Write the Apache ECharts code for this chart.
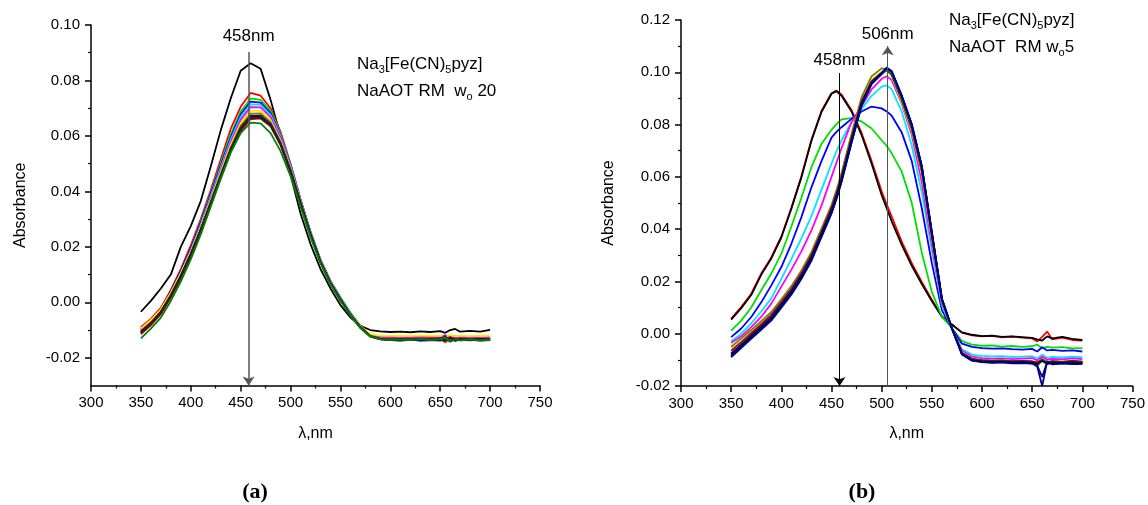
<!DOCTYPE html>
<html><head><meta charset="utf-8">
<script src="https://cdn.jsdelivr.net/npm/echarts@6/dist/echarts.min.js"></script>
<style>html,body{margin:0;padding:0;background:#fff}#c{width:1148px;height:505px}</style>
</head><body><div id="c"></div>
<script>
// ---------- Panel (a): NaAOT RM w0 20 ----------
const WL_A = [350,360,370,380,390,400,410,420,430,440,
              450,460,470,480,490,500,510,520,530,540,
              550,560,570,580,590,600,610,620,630,640,
              650,655,660,665,670,680,690,700];
const A_black = [-0.0034,0.0005,0.0050,0.0100,0.0200,0.0275,0.0365,0.0490,0.0620,0.0735,
  0.0835,0.0862,0.0842,0.0730,0.0600,0.0460,0.0320,0.0210,0.0120,0.0050,
  -0.0010,-0.0055,-0.0085,-0.0100,-0.0105,-0.0107,-0.0106,-0.0108,-0.0105,-0.0107,
  -0.0104,-0.0110,-0.0100,-0.0096,-0.0106,-0.0103,-0.0106,-0.0099];
const A_red = [-0.0090,-0.0060,-0.0020,0.0045,0.0120,0.0205,0.0300,0.0405,0.0515,0.0625,
  0.0705,0.0755,0.0745,0.0700,0.0615,0.0500,0.0370,0.0250,0.0150,0.0075,
  0.0015,-0.0040,-0.0085,-0.0118,-0.0127,-0.0128,-0.0130,-0.0127,-0.0131,-0.0128,
  -0.0126,-0.0135,-0.0124,-0.0140,-0.0129,-0.0131,-0.0128,-0.0130];
const A_green = [-0.0100,-0.0068,-0.0028,0.0035,0.0110,0.0195,0.0290,0.0395,0.0500,0.0605,
  0.0688,0.0735,0.0730,0.0690,0.0608,0.0498,0.0372,0.0255,0.0155,0.0078,
  0.0018,-0.0038,-0.0085,-0.0120,-0.0132,-0.0134,-0.0133,-0.0136,-0.0132,-0.0135,
  -0.0133,-0.0128,-0.0140,-0.0131,-0.0136,-0.0133,-0.0137,-0.0135];
const A_blue = [-0.0098,-0.0066,-0.0026,0.0038,0.0112,0.0195,0.0288,0.0390,0.0493,0.0595,
  0.0678,0.0724,0.0720,0.0682,0.0602,0.0495,0.0370,0.0253,0.0152,0.0076,
  0.0016,-0.0040,-0.0087,-0.0122,-0.0133,-0.0135,-0.0137,-0.0134,-0.0138,-0.0136,
  -0.0134,-0.0142,-0.0132,-0.0138,-0.0135,-0.0137,-0.0134,-0.0136];
const A_cyan = [-0.0105,-0.0072,-0.0032,0.0030,0.0104,0.0187,0.0280,0.0382,0.0485,0.0587,
  0.0668,0.0714,0.0712,0.0676,0.0598,0.0492,0.0368,0.0251,0.0151,0.0075,
  0.0015,-0.0041,-0.0088,-0.0122,-0.0131,-0.0133,-0.0132,-0.0134,-0.0130,-0.0133,
  -0.0131,-0.0125,-0.0137,-0.0130,-0.0134,-0.0131,-0.0133,-0.0132];
const A_magenta = [-0.0102,-0.0070,-0.0030,0.0032,0.0104,0.0185,0.0276,0.0376,0.0478,0.0578,
  0.0658,0.0704,0.0703,0.0668,0.0592,0.0488,0.0366,0.0250,0.0150,0.0074,
  0.0014,-0.0042,-0.0088,-0.0120,-0.0126,-0.0125,-0.0127,-0.0124,-0.0126,-0.0123,
  -0.0125,-0.0118,-0.0130,-0.0122,-0.0126,-0.0124,-0.0127,-0.0125];
const A_yellow = [-0.0095,-0.0064,-0.0025,0.0035,0.0105,0.0183,0.0272,0.0370,0.0470,0.0568,
  0.0646,0.0690,0.0690,0.0657,0.0583,0.0482,0.0362,0.0247,0.0148,0.0072,
  0.0012,-0.0043,-0.0087,-0.0115,-0.0120,-0.0121,-0.0120,-0.0122,-0.0119,-0.0121,
  -0.0120,-0.0126,-0.0117,-0.0123,-0.0120,-0.0122,-0.0120,-0.0121];
const A_olive = [-0.0110,-0.0077,-0.0037,0.0024,0.0095,0.0175,0.0265,0.0363,0.0462,0.0558,
  0.0636,0.0680,0.0681,0.0650,0.0578,0.0478,0.0360,0.0246,0.0147,0.0071,
  0.0011,-0.0044,-0.0089,-0.0121,-0.0130,-0.0132,-0.0131,-0.0133,-0.0130,-0.0132,
  -0.0131,-0.0145,-0.0128,-0.0135,-0.0131,-0.0133,-0.0131,-0.0133];
const A_navy = [-0.0108,-0.0075,-0.0035,0.0025,0.0095,0.0174,0.0262,0.0358,0.0456,0.0551,
  0.0628,0.0672,0.0673,0.0643,0.0573,0.0475,0.0358,0.0245,0.0146,0.0070,
  0.0010,-0.0045,-0.0090,-0.0123,-0.0134,-0.0136,-0.0138,-0.0135,-0.0137,-0.0136,
  -0.0138,-0.0130,-0.0141,-0.0134,-0.0137,-0.0135,-0.0138,-0.0136];
const A_purple = [-0.0112,-0.0079,-0.0039,0.0021,0.0091,0.0170,0.0258,0.0354,0.0452,0.0547,
  0.0624,0.0667,0.0669,0.0640,0.0571,0.0474,0.0357,0.0244,0.0145,0.0069,
  0.0009,-0.0046,-0.0091,-0.0123,-0.0131,-0.0133,-0.0132,-0.0134,-0.0131,-0.0133,
  -0.0130,-0.0122,-0.0138,-0.0129,-0.0133,-0.0131,-0.0134,-0.0132];
const A_wine = [-0.0115,-0.0082,-0.0042,0.0018,0.0087,0.0166,0.0254,0.0350,0.0447,0.0542,
  0.0618,0.0661,0.0663,0.0635,0.0567,0.0471,0.0355,0.0242,0.0144,0.0068,
  0.0008,-0.0047,-0.0092,-0.0124,-0.0133,-0.0135,-0.0134,-0.0136,-0.0133,-0.0135,
  -0.0132,-0.0140,-0.0127,-0.0136,-0.0133,-0.0135,-0.0132,-0.0134];
const A_black2 = [-0.0106,-0.0074,-0.0034,0.0026,0.0096,0.0175,0.0263,0.0359,0.0457,0.0552,
  0.0629,0.0670,0.0668,0.0638,0.0569,0.0472,0.0356,0.0244,0.0145,0.0069,
  0.0009,-0.0046,-0.0090,-0.0122,-0.0132,-0.0134,-0.0133,-0.0135,-0.0132,-0.0134,
  -0.0131,-0.0137,-0.0128,-0.0134,-0.0131,-0.0134,-0.0132,-0.0134];
const A_dkgreen = [-0.0130,-0.0095,-0.0055,0.0005,0.0075,0.0155,0.0245,0.0345,0.0445,0.0540,
  0.0610,0.0648,0.0645,0.0610,0.0545,0.0455,0.0345,0.0235,0.0140,0.0065,
  0.0005,-0.0048,-0.0093,-0.0124,-0.0133,-0.0135,-0.0134,-0.0136,-0.0133,-0.0136,
  -0.0134,-0.0128,-0.0142,-0.0133,-0.0137,-0.0134,-0.0137,-0.0135];

// ---------- Panel (b): NaAOT RM w0 5 ----------
const WL_B = [350,360,370,380,390,400,410,420,430,440,
              450,455,460,470,480,490,500,505,510,520,
              530,540,550,560,570,580,590,600,610,620,
              630,640,650,655,660,665,670,680,690,700];
const B_red = [0.0058,0.0102,0.0153,0.0230,0.0292,0.0372,0.0482,0.0602,0.0742,0.0852,
  0.0920,0.0930,0.0915,0.0855,0.0768,0.0660,0.0545,0.0495,0.0448,0.0352,
  0.0270,0.0198,0.0130,0.0068,0.0035,0.0004,-0.0006,-0.0010,-0.0008,-0.0014,
  -0.0011,-0.0015,-0.0018,-0.0030,-0.0012,0.0008,-0.0022,-0.0015,-0.0024,-0.0026];
const B_black = [0.0054,0.0098,0.0148,0.0226,0.0288,0.0368,0.0478,0.0598,0.0738,0.0848,
  0.0918,0.0928,0.0910,0.0850,0.0760,0.0650,0.0530,0.0480,0.0430,0.0340,
  0.0260,0.0190,0.0125,0.0065,0.0035,0.0005,-0.0004,-0.0009,-0.0007,-0.0012,
  -0.0010,-0.0013,-0.0016,-0.0022,-0.0026,-0.0010,-0.0018,-0.0012,-0.0020,-0.0024];
const B_green = [0.0012,0.0050,0.0100,0.0166,0.0230,0.0306,0.0410,0.0520,0.0637,0.0726,
  0.0780,0.0802,0.0820,0.0825,0.0812,0.0785,0.0740,0.0718,0.0690,0.0620,
  0.0500,0.0310,0.0160,0.0065,0.0022,-0.0028,-0.0042,-0.0046,-0.0045,-0.0049,
  -0.0047,-0.0050,-0.0048,-0.0042,-0.0055,-0.0050,-0.0053,-0.0051,-0.0056,-0.0055];
const B_blue = [-0.0013,0.0020,0.0064,0.0120,0.0185,0.0255,0.0344,0.0446,0.0560,0.0660,
  0.0750,0.0772,0.0790,0.0822,0.0850,0.0869,0.0862,0.0850,0.0834,0.0770,
  0.0660,0.0480,0.0270,0.0090,0.0020,-0.0038,-0.0050,-0.0055,-0.0057,-0.0056,
  -0.0059,-0.0061,-0.0058,-0.0068,-0.0052,-0.0064,-0.0062,-0.0066,-0.0064,-0.0068];
const B_cyan = [-0.0030,0.0000,0.0040,0.0085,0.0135,0.0210,0.0285,0.0365,0.0450,0.0550,
  0.0650,0.0698,0.0740,0.0810,0.0860,0.0910,0.0945,0.0950,0.0935,0.0850,
  0.0720,0.0540,0.0320,0.0110,0.0018,-0.0060,-0.0080,-0.0085,-0.0087,-0.0086,
  -0.0089,-0.0088,-0.0086,-0.0095,-0.0080,-0.0092,-0.0089,-0.0091,-0.0088,-0.0090];
const B_magenta = [-0.0035,-0.0010,0.0025,0.0065,0.0115,0.0180,0.0245,0.0315,0.0395,0.0490,
  0.0600,0.0655,0.0710,0.0810,0.0870,0.0935,0.0975,0.0985,0.0970,0.0880,
  0.0760,0.0580,0.0340,0.0120,0.0020,-0.0065,-0.0088,-0.0093,-0.0095,-0.0094,
  -0.0097,-0.0095,-0.0093,-0.0102,-0.0088,-0.0099,-0.0096,-0.0098,-0.0094,-0.0097];
const B_yellow = [-0.0055,-0.0022,0.0010,0.0045,0.0080,0.0128,0.0178,0.0238,0.0308,0.0398,
  0.0488,0.0545,0.0608,0.0758,0.0895,0.0972,0.1002,0.1005,0.0985,0.0885,
  0.0775,0.0612,0.0365,0.0125,0.0018,-0.0072,-0.0095,-0.0100,-0.0102,-0.0101,
  -0.0104,-0.0103,-0.0105,-0.0120,-0.0096,-0.0108,-0.0104,-0.0106,-0.0103,-0.0106];
const B_olive = [-0.0050,-0.0018,0.0014,0.0048,0.0083,0.0132,0.0182,0.0242,0.0312,0.0402,
  0.0492,0.0550,0.0615,0.0765,0.0905,0.0985,0.1015,0.1012,0.0990,0.0890,
  0.0780,0.0618,0.0370,0.0127,0.0019,-0.0074,-0.0097,-0.0102,-0.0104,-0.0103,
  -0.0106,-0.0105,-0.0107,-0.0125,-0.0098,-0.0110,-0.0106,-0.0108,-0.0105,-0.0108];
const B_purple = [-0.0065,-0.0032,0.0002,0.0037,0.0072,0.0121,0.0171,0.0231,0.0301,0.0391,
  0.0481,0.0537,0.0600,0.0750,0.0888,0.0966,0.0998,0.1008,0.0992,0.0896,
  0.0786,0.0625,0.0376,0.0128,0.0020,-0.0074,-0.0096,-0.0101,-0.0103,-0.0102,
  -0.0105,-0.0104,-0.0106,-0.0112,-0.0098,-0.0110,-0.0105,-0.0108,-0.0104,-0.0107];
const B_wine = [-0.0075,-0.0041,-0.0006,0.0029,0.0064,0.0114,0.0164,0.0224,0.0294,0.0384,
  0.0474,0.0530,0.0594,0.0744,0.0884,0.0962,0.0996,0.1010,0.0996,0.0902,
  0.0792,0.0633,0.0382,0.0131,0.0021,-0.0075,-0.0098,-0.0103,-0.0105,-0.0104,
  -0.0107,-0.0106,-0.0108,-0.0110,-0.0102,-0.0114,-0.0109,-0.0111,-0.0106,-0.0109];
const B_dkgreen = [-0.0080,-0.0046,-0.0011,0.0024,0.0058,0.0107,0.0157,0.0217,0.0287,0.0377,
  0.0467,0.0522,0.0587,0.0737,0.0877,0.0958,0.0993,0.1008,0.0994,0.0900,
  0.0790,0.0630,0.0380,0.0130,0.0020,-0.0076,-0.0099,-0.0104,-0.0106,-0.0105,
  -0.0108,-0.0107,-0.0109,-0.0118,-0.0101,-0.0113,-0.0109,-0.0111,-0.0108,-0.0111];
const B_dkcyan = [-0.0090,-0.0055,-0.0020,0.0015,0.0050,0.0099,0.0149,0.0209,0.0279,0.0369,
  0.0459,0.0515,0.0580,0.0730,0.0872,0.0955,0.0992,0.1010,0.0998,0.0905,
  0.0795,0.0636,0.0385,0.0133,0.0021,-0.0078,-0.0101,-0.0106,-0.0108,-0.0107,
  -0.0110,-0.0109,-0.0111,-0.0120,-0.0104,-0.0116,-0.0112,-0.0114,-0.0110,-0.0113];
const B_black2 = [-0.0078,-0.0044,-0.0009,0.0026,0.0061,0.0111,0.0161,0.0221,0.0291,0.0381,
  0.0471,0.0527,0.0591,0.0741,0.0881,0.0961,0.0997,0.1015,0.1002,0.0908,
  0.0798,0.0638,0.0386,0.0133,0.0021,-0.0077,-0.0100,-0.0105,-0.0107,-0.0106,
  -0.0109,-0.0108,-0.0110,-0.0116,-0.0103,-0.0115,-0.0110,-0.0112,-0.0109,-0.0112];
const B_royal = [-0.0088,-0.0053,-0.0018,0.0017,0.0052,0.0101,0.0151,0.0211,0.0281,0.0371,
  0.0461,0.0517,0.0582,0.0732,0.0874,0.0957,0.0996,0.1015,0.1003,0.0910,
  0.0800,0.0640,0.0388,0.0134,0.0022,-0.0079,-0.0103,-0.0109,-0.0111,-0.0110,
  -0.0113,-0.0112,-0.0114,-0.0122,-0.0165,-0.0108,-0.0117,-0.0113,-0.0116,-0.0115];
const B_navy = [-0.0085,-0.0050,-0.0015,0.0020,0.0055,0.0104,0.0154,0.0214,0.0284,0.0374,
  0.0464,0.0520,0.0584,0.0734,0.0875,0.0958,0.0998,0.1018,0.1005,0.0912,
  0.0802,0.0642,0.0390,0.0135,0.0022,-0.0078,-0.0102,-0.0108,-0.0110,-0.0109,
  -0.0112,-0.0111,-0.0113,-0.0125,-0.0200,-0.0105,-0.0116,-0.0112,-0.0115,-0.0114];

// ticks / labels
const X_TICKS_MIN = 300, X_TICKS_MAX = 750, X_STEP = 50;
const A_Y_LABELS = [-0.02, 0.00, 0.02, 0.04, 0.06, 0.08, 0.10];
const A_Y_MINOR = [-0.01, 0.01, 0.03, 0.05, 0.07, 0.09];
const A_Y_MIN = -0.03, A_Y_MAX = 0.10;
const B_Y_MIN = -0.02, B_Y_MAX = 0.12, B_Y_STEP = 0.02;
const PEAK_A = 458, PEAK_B1 = 458, PEAK_B2 = 506;

const FONT = "'Liberation Sans', Arial, sans-serif";
const chart = echarts.init(document.getElementById('c'), null, {renderer: 'canvas'});

function mk(vals, wl, color, xi, yi, extra) {
  return Object.assign({
    type: 'line', xAxisIndex: xi, yAxisIndex: yi,
    data: wl.map((x, i) => [x, vals[i]]),
    showSymbol: false, symbol: 'none', silent: true,
    lineStyle: {color: color, width: 1.8}, itemStyle: {color: color},
    z: 2
  }, extra || {});
}

const axisCommon = {
  axisLine: {show: true, onZero: false, lineStyle: {color: '#000', width: 1.5}},
  axisTick: {show: true, inside: false, length: 6, lineStyle: {color: '#000', width: 1.5}},
  minorTick: {show: true, splitNumber: 2, length: 3, lineStyle: {color: '#000', width: 1.2}},
  splitLine: {show: false},
  axisLabel: {color: '#000', fontSize: 15, fontFamily: FONT},
  nameTextStyle: {color: '#000', fontSize: 16, fontFamily: FONT}
};
function xa(gi) {
  return Object.assign({}, axisCommon, {
    gridIndex: gi, type: 'value', min: X_TICKS_MIN, max: X_TICKS_MAX, interval: X_STEP,
    name: 'λ,nm', nameLocation: 'middle', nameGap: 40,
    axisLabel: Object.assign({}, axisCommon.axisLabel, {margin: 10})
  });
}

const fmt = v => v.toFixed(2);
const arrowLine = {color: '#555', width: 1.5, type: 'solid'};
const annLabel = {color: '#000', fontSize: 17, fontFamily: FONT};

const seriesA = [
  mk(A_black, WL_A, '#000000', 0, 0),
  mk(A_red, WL_A, '#ff0000', 0, 0),
  mk(A_green, WL_A, '#00e000', 0, 0),
  mk(A_blue, WL_A, '#0000ff', 0, 0),
  mk(A_cyan, WL_A, '#00e5ff', 0, 0),
  mk(A_magenta, WL_A, '#ff00ff', 0, 0),
  mk(A_yellow, WL_A, '#f0f000', 0, 0),
  mk(A_olive, WL_A, '#808000', 0, 0),
  mk(A_navy, WL_A, '#000080', 0, 0),
  mk(A_purple, WL_A, '#800080', 0, 0),
  mk(A_wine, WL_A, '#800000', 0, 0),
  mk(A_black2, WL_A, '#202020', 0, 0),
  mk(A_dkgreen, WL_A, '#008000', 0, 0, {
    markLine: {
      silent: true, animation: false, symbolSize: 9,
      lineStyle: arrowLine,
      data: [[
        {coord: [PEAK_A, 0.0903], symbol: 'none',
         label: {show: true, position: 'start', formatter: PEAK_A + 'nm', distance: 7, ...annLabel}},
        {coord: [PEAK_A, A_Y_MIN], symbol: 'arrow'}
      ]]
    }
  })
];

const seriesB = [
  mk(B_red, WL_B, '#ff0000', 1, 2),
  mk(B_black, WL_B, '#000000', 1, 2),
  mk(B_green, WL_B, '#00e000', 1, 2),
  mk(B_blue, WL_B, '#0000ff', 1, 2),
  mk(B_cyan, WL_B, '#00e5ff', 1, 2),
  mk(B_magenta, WL_B, '#ff00ff', 1, 2),
  mk(B_yellow, WL_B, '#e8e800', 1, 2),
  mk(B_olive, WL_B, '#808000', 1, 2),
  mk(B_purple, WL_B, '#800080', 1, 2),
  mk(B_wine, WL_B, '#800000', 1, 2),
  mk(B_dkgreen, WL_B, '#008000', 1, 2),
  mk(B_dkcyan, WL_B, '#008080', 1, 2),
  mk(B_black2, WL_B, '#101010', 1, 2),
  mk(B_royal, WL_B, '#0000a0', 1, 2),
  mk(B_navy, WL_B, '#000080', 1, 2, {
    markLine: {
      silent: true, animation: false, symbolSize: 9,
      data: [
        [
          {coord: [PEAK_B1, 0.0997], symbol: 'none', lineStyle: {color: '#000', width: 1},
           label: {show: true, position: 'start', formatter: PEAK_B1 + 'nm', distance: 4, ...annLabel}},
          {coord: [PEAK_B1, B_Y_MIN], symbol: 'arrow'}
        ],
        [
          {coord: [PEAK_B2, B_Y_MIN], symbol: 'none', lineStyle: {color: '#555', width: 1}},
          {coord: [PEAK_B2, 0.1100], symbol: 'arrow',
           label: {show: true, position: 'end', formatter: PEAK_B2 + 'nm', distance: 3, ...annLabel}}
        ]
      ],
      lineStyle: {color: '#000', width: 1, type: 'solid'},
      label: {show: true, position: 'end', ...annLabel}
    }
  })
];

const rich = {
  n: {fontSize: 17, fontFamily: FONT, color: '#000'},
  s: {fontSize: 11, fontFamily: FONT, color: '#000', padding: [10, 0, 0, 0]}
};

chart.setOption({
  animation: false,
  backgroundColor: '#fff',
  textStyle: {fontFamily: FONT},
  grid: [
    {left: 91, top: 25, width: 449, height: 360.5, containLabel: false},
    {left: 681, top: 20, width: 453, height: 366, containLabel: false}
  ],
  xAxis: [xa(0), xa(1)],
  yAxis: [
    Object.assign({}, axisCommon, {
      gridIndex: 0, type: 'value', min: A_Y_MIN, max: A_Y_MAX, position: 'left',
      name: 'Absorbance', nameLocation: 'middle', nameGap: 62,
      minorTick: {show: false},
      axisTick: Object.assign({}, axisCommon.axisTick, {customValues: A_Y_LABELS}),
      axisLabel: Object.assign({}, axisCommon.axisLabel, {customValues: A_Y_LABELS, formatter: fmt, margin: 11})
    }),
    {
      gridIndex: 0, type: 'value', min: A_Y_MIN, max: A_Y_MAX, position: 'left', offset: 0,
      axisLine: {show: false, onZero: false}, splitLine: {show: false}, axisLabel: {show: false},
      axisTick: {show: true, length: 3, customValues: A_Y_MINOR, lineStyle: {color: '#000', width: 1.2}}
    },
    Object.assign({}, axisCommon, {
      gridIndex: 1, type: 'value', min: B_Y_MIN, max: B_Y_MAX, interval: B_Y_STEP, position: 'left',
      name: 'Absorbance', nameLocation: 'middle', nameGap: 64,
      axisLabel: Object.assign({}, axisCommon.axisLabel, {formatter: fmt, margin: 11})
    })
  ],
  series: seriesA.concat(seriesB),
  graphic: [
    {type: 'text', left: 357, top: 56, silent: true,
     style: {text: '{n|Na}{s|3}{n|[Fe(CN)}{s|5}{n|pyz]}', rich: rich}},
    {type: 'text', left: 357, top: 83, silent: true,
     style: {text: '{n|NaAOT RM  w}{s|o}{n| 20}', rich: rich}},
    {type: 'text', left: 949, top: 12, silent: true,
     style: {text: '{n|Na}{s|3}{n|[Fe(CN)}{s|5}{n|pyz]}', rich: rich}},
    {type: 'text', left: 949, top: 39, silent: true,
     style: {text: '{n|NaAOT  RM w}{s|o}{n|5}', rich: rich}},
    {type: 'text', x: 255, y: 492, silent: true,
     style: {text: '(a)', font: "bold 22px 'Liberation Serif', serif", fill: '#000', align: 'center', verticalAlign: 'middle'}},
    {type: 'text', x: 862, y: 492, silent: true,
     style: {text: '(b)', font: "bold 22px 'Liberation Serif', serif", fill: '#000', align: 'center', verticalAlign: 'middle'}}
  ]
});
</script>
</body></html>
